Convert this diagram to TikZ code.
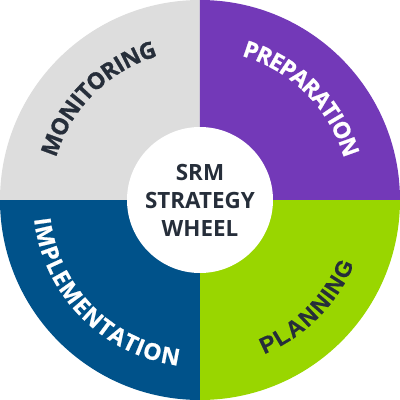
\documentclass[tikz,border=0pt]{standalone}
\usepackage{fontspec}
\setmainfont{Open Sans}
\newfontfamily\arcfont[FakeBold=0.8]{Open Sans}
\newfontfamily\arialfont[FakeBold=0.6]{Liberation Sans}
\usetikzlibrary{decorations.text}
\definecolor{wgray}{HTML}{DDDDDD}
\definecolor{wpurple}{HTML}{7339B8}
\definecolor{wgreen}{HTML}{99D600}
\definecolor{wblue}{HTML}{00528A}
\definecolor{wdark}{HTML}{262E3A}
\newcommand{\wheelfont}{\arcfont\fontsize{23}{23}\selectfont\bfseries}
\newcommand{\planfont}{\arialfont\fontsize{23}{23}\selectfont\bfseries}
\tikzset{
  arclabel/.style n args={3}{font=#2, text=#3, decorate, decoration={text effects along path, text={#1},
      text effects/.cd, text along path, fit text to path,
      characters={font=#2, text=#3, anchor=base, inner sep=0pt}}},
  hub/.style={circle, fill=white, minimum size=146pt, inner sep=0pt, text=wdark, align=center,
    font=\fontsize{22.4}{28}\selectfont\bfseries}
}
\begin{document}
\begin{tikzpicture}[x=1pt,y=1pt]
\useasboundingbox (-200,-200) rectangle (200,200);
\fill[wgray]   (0,0) -- (180:200) arc[start angle=180, end angle=90, radius=200] -- cycle;
\fill[wpurple] (0,0) -- (90:200) arc[start angle=90, end angle=0, radius=200] -- cycle;
\fill[wgreen]  (0,0) -- (0:200) arc[start angle=0, end angle=-90, radius=200] -- cycle;
\fill[wblue]   (0,0) -- (270:200) arc[start angle=270, end angle=180, radius=200] -- cycle;
\path[arclabel={MONITORING}{\wheelfont}{wdark}] (163.7:150) arc[start angle=163.7, end angle=106.3, radius=150];
\path[arclabel={PREPARATION}{\wheelfont}{white}] (73.9:150) arc[start angle=73.9, end angle=16.1, radius=150];
\path[arclabel={IMPLEMENTATION}{\wheelfont}{white}] (186.5:167) arc[start angle=186.5, end angle=262.5, radius=167];
\path[arclabel={PLANNING}{\planfont}{wdark}] (-67.4:167) arc[start angle=-67.4, end angle=-22.6, radius=167];
\node[hub] (center) at (0,0) {SRM\\STRATEGY\\WHEEL};
\end{tikzpicture}
\end{document}
